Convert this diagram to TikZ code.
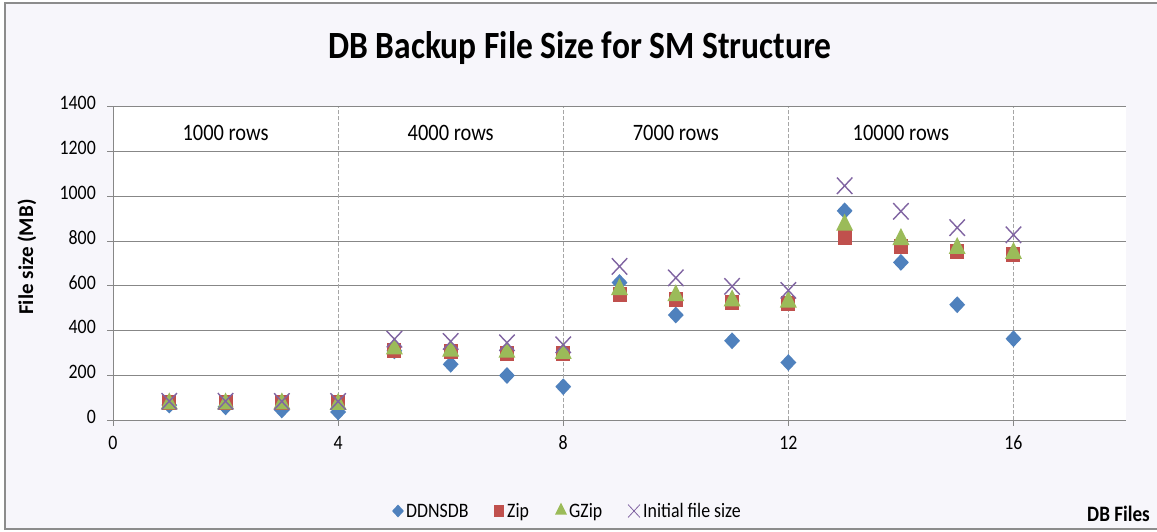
\documentclass[tikz,border=0pt]{standalone}
\usepackage{fontspec}
\setmainfont{Carlito}[FakeStretch=0.87]
\newfontfamily\ylabelfont{Carlito}
\usetikzlibrary{shapes.geometric,shapes.misc}

\definecolor{chartbg}{HTML}{F7F6FB}
\definecolor{framegray}{HTML}{8C8C8C}
\definecolor{gridgray}{HTML}{878787}
\definecolor{bandgray}{HTML}{A6A6A6}
\definecolor{ddnblue}{HTML}{4F81BD}
\definecolor{zipred}{HTML}{C0504D}
\definecolor{gzgreen}{HTML}{9BBB59}
\definecolor{inipurple}{HTML}{8064A2}

\tikzset{
  gridline/.style={gridgray, line width=0.9pt},
  bandline/.style={bandgray, line width=0.6pt, dash pattern=on 4pt off 2pt},
  ddnmark/.style={diamond, fill=ddnblue, inner sep=0pt, minimum width=16pt, minimum height=17pt},
  zipmark/.style={rectangle, fill=zipred, inner sep=0pt, minimum width=14pt, minimum height=15pt},
  gzmark/.style={isosceles triangle, isosceles triangle stretches, shape border rotate=90,
    fill=gzgreen, inner sep=0pt, minimum width=17pt, minimum height=17pt},
  inimark/.style={cross out, draw=inipurple, line width=1.4pt, inner sep=0pt, minimum width=14pt, minimum height=15pt},
  ticklabel/.style={font=\fontsize{20.5}{20}\selectfont, text height=0.63em, text depth=0pt, inner sep=0pt},
  bandtext/.style={font=\fontsize{23.5}{24}\selectfont, inner sep=0pt},
  legtext/.style={font=\fontsize{20.5}{21}\selectfont, inner sep=0pt, anchor=base west},
}

\begin{document}
\begin{tikzpicture}[x=1pt,y=1pt]
\useasboundingbox (0,0) rectangle (1157,531);

% chart area and plot area
\draw[framegray, line width=1.5pt, fill=chartbg] (5,2) rectangle (1175,528);
\fill[white] (113,110.7) rectangle (1126,424.3);

\node[font=\bfseries\fontsize{38.5}{39}\selectfont, anchor=base, inner sep=0pt] (title) at (580,472) {DB Backup File Size for SM Structure};

\begin{scope}[shift={(113,110.7)}, x=56.28pt, y=0.224pt]
  % grid
  \foreach \v in {200,400,...,1400}
    \draw[gridline] (0,\v) -- (18,\v);
  \foreach \u in {4,8,12,16}
    \draw[bandline] (\u,0) -- (\u,1400);

  % axes
  \draw[gridline] (0,0) -- (0,1400);
  \draw[gridline] (0,0) -- (18,0);
  \foreach \v in {0,200,...,1400} {
    \draw[gridline] (0,\v) -- ++(-6pt,0);
    \node[ticklabel, anchor=east, xshift=-17pt] (ytick\v) at (0,\v) {\v};
  }
  \foreach \u in {0,4,8,12,16} {
    \draw[gridline] (\u,0) -- ++(0,-6pt);
    \node[ticklabel, yshift=-26.5pt] (xtick\u) at (\u,0) {\u};
  }

  % row groups
  \node[bandtext, anchor=base] (band1) at (2,1251) {1000 rows};
  \node[bandtext, anchor=base] (band2) at (6,1251) {4000 rows};
  \node[bandtext, anchor=base] (band3) at (10,1251) {7000 rows};
  \node[bandtext, anchor=base] (band4) at (14,1251) {10000 rows};

  % data series
  \foreach \f/\s in {1/68,2/60,3/46,4/37,5/310,6/250,7/200,8/150,9/615,10/470,11/355,12/258,13/935,14/705,15/516,16/364}
    \node[ddnmark] (ddn\f) at (\f,\s) {};
  \foreach \f/\s in {1/78,2/78,3/78,4/78,5/312,6/305,7/300,8/297,9/560,10/538,11/525,12/520,13/815,14/776,15/754,16/739}
    \node[zipmark] (zip\f) at (\f,\s) {};
  \foreach \f/\s in {1/72,2/72,3/72,4/70,5/318,6/308,7/303,8/298,9/582,10/555,11/532,12/527,13/870,14/806,15/766,16/744}
    \node[gzmark] (gz\f) at (\f,\s) {};
  \foreach \f/\s in {1/85,2/85,3/84,4/84,5/362,6/352,7/346,8/337,9/687,10/636,11/598,12/580,13/1047,14/933,15/860,16/828}
    \node[inimark] (ini\f) at (\f,\s) {};
\end{scope}

% axis titles
\node[font=\ylabelfont\bfseries\fontsize{21}{21}\selectfont, rotate=90, inner sep=0pt] (ylabel) at (27,274) {File size (MB)};
\node[font=\bfseries\fontsize{22}{22}\selectfont, anchor=base west, inner sep=0pt] (xlabel) at (1087,10) {DB Files};

% legend
\node[ddnmark, minimum width=12pt, minimum height=13pt] (legddn) at (398,20) {};
\node[legtext] (legddntext) at (406,14) {DDNSDB};
\node[zipmark, minimum width=10pt, minimum height=12pt] (legzip) at (499,20) {};
\node[legtext] (legziptext) at (507,14) {Zip};
\node[gzmark, minimum width=12pt, minimum height=12pt] (leggz) at (561,20) {};
\node[legtext] (leggztext) at (569,14) {GZip};
\node[inimark, line width=0.8pt, minimum width=11pt, minimum height=12pt] (legini) at (634,20) {};
\node[legtext] (leginitext) at (643,14) {Initial file size};
\end{tikzpicture}
\end{document}
